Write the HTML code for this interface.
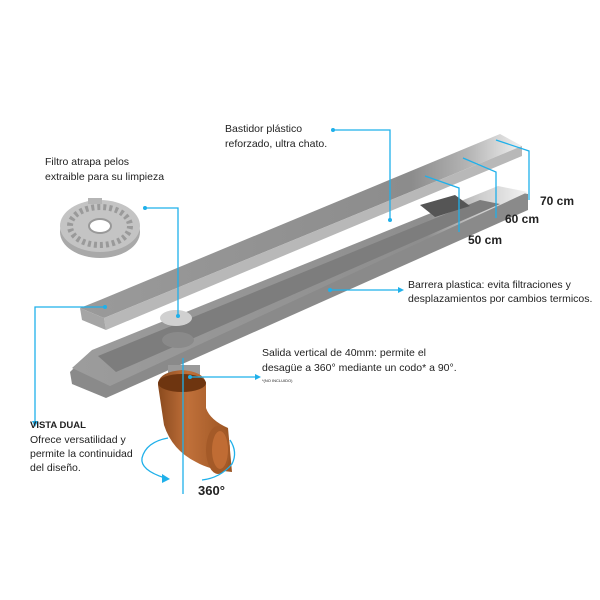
<!DOCTYPE html>
<html><head><meta charset="utf-8"><style>
html,body{margin:0;padding:0;background:#fff;}
svg{display:block;font-family:"Liberation Sans",sans-serif;}
</style></head><body>
<svg width="600" height="600" viewBox="0 0 600 600" xmlns="http://www.w3.org/2000/svg">
<defs>
<linearGradient id="cov" x1="0" y1="0" x2="1" y2="0">
<stop offset="0" stop-color="#9a9a9a"/><stop offset="0.75" stop-color="#8c8c8c"/><stop offset="0.88" stop-color="#b5b5b5"/><stop offset="1" stop-color="#f0f0f0"/></linearGradient>
<linearGradient id="tray" x1="0" y1="0" x2="1" y2="0">
<stop offset="0" stop-color="#9c9c9c"/><stop offset="0.78" stop-color="#8e8e8e"/><stop offset="0.9" stop-color="#cfcfcf"/><stop offset="1" stop-color="#f2f2f2"/></linearGradient>
<linearGradient id="pipe" x1="0" y1="0" x2="1" y2="0">
<stop offset="0" stop-color="#8a4a1e"/><stop offset="0.4" stop-color="#c0703a"/><stop offset="1" stop-color="#9a5422"/></linearGradient>
</defs>

<!-- tray -->
<polygon points="70,372 90,352 498,188 528,194 528,210 106,398 72,384" fill="#8a8a8a"/>
<polygon points="72,368 92,350 498,186 528,192 110,386" fill="url(#tray)"/>
<polygon points="98,356 480,200 500,204 116,372" fill="#7d7d7d"/>
<polygon points="420,205 455,195 470,206 435,217" fill="#555"/>
<ellipse cx="178" cy="340" rx="16" ry="8" fill="#8a8a8a"/>
<!-- vertical stub -->
<rect x="168" y="365" width="32" height="15" fill="#9a9a9a"/>
<!-- pipe -->
<path d="M158,385 Q158,372 182,370 Q206,372 206,385 L206,408 Q210,420 228,428 L232,472 Q210,470 196,462 Q172,450 164,425 Z" fill="url(#pipe)"/>
<ellipse cx="182" cy="383" rx="24" ry="9" fill="#6e3510"/>
<ellipse cx="218" cy="450" rx="12" ry="24" fill="#a45a28"/>
<ellipse cx="220" cy="450" rx="8" ry="19" fill="#c06c34"/>

<!-- cover -->
<polygon points="80,308 100,300 500,134 522,146 104,318" fill="url(#cov)"/>
<polygon points="104,318 522,146 522,156 106,330" fill="#b8b8b8"/>
<polygon points="80,308 104,318 106,330 82,320" fill="#a5a5a5"/>

<!-- filter small -->
<ellipse cx="176" cy="318" rx="16" ry="8" fill="#d0d0d0"/>
<!-- filter big -->
<ellipse cx="100" cy="232" rx="40" ry="26" fill="#a9a9a9"/>
<ellipse cx="100" cy="226" rx="40" ry="26" fill="#c4c4c4"/>
<ellipse cx="100" cy="226" rx="30" ry="19" fill="none" stroke="#9a9a9a" stroke-width="6" stroke-dasharray="3 3"/>
<ellipse cx="100" cy="226" rx="11" ry="7" fill="#fff" stroke="#999" stroke-width="2"/>
<rect x="88" y="198" width="14" height="6" fill="#b5b5b5"/>

<!-- blue lines -->
<g stroke="#1fb0ea" stroke-width="1.3" fill="none">
<polyline points="333,130 390,130 390,220"/>
<polyline points="145,208 178,208 178,316"/>
<polyline points="105,307 35,307 35,425"/>
<line x1="330" y1="290" x2="400" y2="290"/>
<line x1="190" y1="377" x2="257" y2="377"/>
<line x1="183" y1="358" x2="183" y2="494"/>
<polyline points="425,176 459,188 459,232"/>
<polyline points="463,158 496,172 496,218"/>
<polyline points="496,140 529,151 529,200"/>
<path d="M165,478 Q140,470 142,458 Q146,442 168,438"/>
<path d="M230,440 Q238,452 232,464 Q220,478 202,480"/>
</g>
<g fill="#1fb0ea">
<circle cx="333" cy="130" r="2"/><circle cx="390" cy="220" r="2"/>
<circle cx="145" cy="208" r="2"/><circle cx="178" cy="316" r="2"/>
<circle cx="105" cy="307" r="2"/><polygon points="32,421 38,421 35,427"/>
<circle cx="330" cy="290" r="2"/><polygon points="398,287 404,290 398,293"/>
<circle cx="190" cy="377" r="2"/><polygon points="255,374 261,377 255,380"/>
<polygon points="162,474 170,479 162,483"/>
</g>

<g fill="#222" font-size="10.5">
<text x="225" y="132">Bastidor plástico</text>
<text x="225" y="147">reforzado, ultra chato.</text>
<text x="45" y="165">Filtro atrapa pelos</text>
<text x="45" y="180">extraible para su limpieza</text>
<text x="408" y="288">Barrera plastica: evita filtraciones y</text>
<text x="408" y="302">desplazamientos por cambios termicos.</text>
<text x="262" y="356">Salida vertical de 40mm: permite el</text>
<text x="262" y="371">desagüe a 360° mediante un codo* a 90°.</text>
<text x="262" y="382" font-size="4">*(NO INCLUIDO)</text>
<text x="30" y="428" font-weight="bold" font-size="9.5">VISTA DUAL</text>
<text x="30" y="443">Ofrece versatilidad y</text>
<text x="30" y="457">permite la continuidad</text>
<text x="30" y="471">del diseño.</text>
<g font-weight="bold" font-size="12">
<text x="540" y="205">70 cm</text>
<text x="505" y="223">60 cm</text>
<text x="468" y="244">50 cm</text>
<text x="198" y="495" font-size="13">360°</text>
</g>
</g>
</svg>
</body></html>
